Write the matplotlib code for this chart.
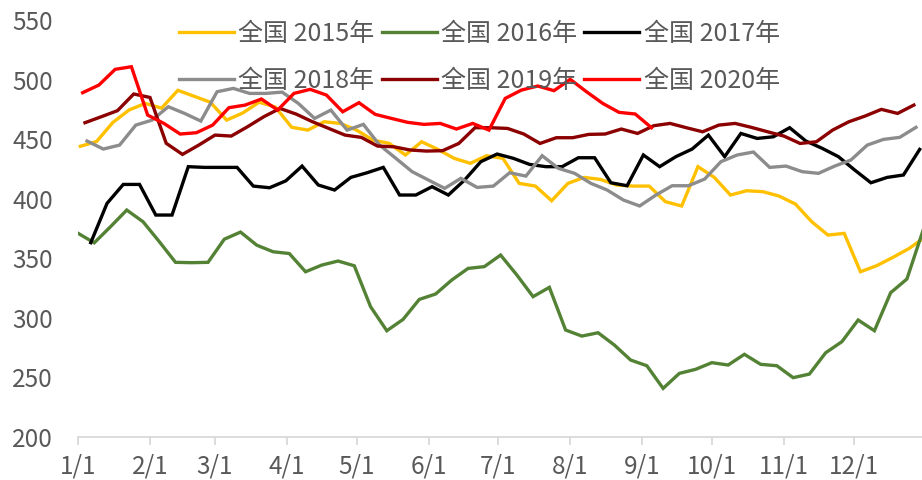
import matplotlib
matplotlib.use("Agg")
import numpy as np
import matplotlib.pyplot as plt

plt.rcParams['font.family'] = ['Noto Sans CJK SC', 'DejaVu Sans']

# month start labels (day of year)
month_days = [0, 31, 59, 90, 120, 151, 181, 212, 243, 273, 304, 334]
month_labels = ['1/1', '2/1', '3/1', '4/1', '5/1', '6/1', '7/1', '8/1', '9/1', '10/1', '11/1', '12/1']

# weekly series, first day of year for each
start_2015 = 1
v2015 = [444, 448, 464, 474.5, 480, 476, 491, 486, 481, 466,
         472, 481, 477, 460, 457.6, 464.6, 463.2, 457.6, 449.2, 446.5,
         436.7, 447.8, 441.4, 433.9, 429.7, 436.1, 433.9, 412.9, 410.6, 398.3,
         412.9, 417.9, 416.2, 411.5, 410.6, 410.6, 397.5, 393.9, 426.9, 418,
         403.1, 406.7, 405.9, 402.2, 395.5, 380.7, 369.5, 370.9, 338.7, 343.8,
         350.8, 358.3, 368.1]

start_2016 = 0
v2016 = [371, 363, 376.5, 390.5, 380.7, 364, 346.6, 346.3, 346.6, 366,
         372, 361, 355.5, 354, 338.7, 344.3, 347.7, 343.7, 309.4, 289.2,
         298.7, 315.5, 320, 331.8, 341.5, 343, 352.7, 336, 317.8, 325.6,
         289.8, 284.7, 287.5, 277.2, 264.6, 259.8, 240.8, 253.4, 256.8, 262.4,
         260.4, 269.4, 261, 259.8, 249.8, 252.8, 270.7, 280, 298.2, 289.2,
         321.1, 332.6, 373.7]

start_2017 = 5.5
v2017 = [363.1, 396.1, 412, 412, 386.3, 386.3, 426.9, 426.3, 426.3, 426.3,
         410.6, 409.2, 415, 427.4, 411.5, 407.3, 417.9, 421.8, 426.3, 403.1,
         403.1, 410.1, 403.1, 415.7, 431.1, 437.5, 433.9, 428.8, 426.9, 426.9,
         434.4, 434.4, 413.4, 410.9, 436.7, 426.9, 435.3, 441.7, 453.4, 435.3,
         454.8, 450.6, 452, 459.6, 448.4, 442.3, 435.3, 424.1, 413.4, 417.9,
         419.9, 441.4]

start_2018 = 3.9
v2018 = [448.4, 441.7, 445, 461.8, 466, 477.2, 471.6, 465.2, 489.8, 492.6,
         488.4, 488.4, 489.5, 480, 467.4, 474.4, 457.6, 462.4, 445, 433.9,
         422.7, 415.7, 408.7, 417.1, 409.5, 410.6, 421.8, 419, 436.1, 425.5,
         421.3, 412.9, 407.3, 398.9, 393.9, 403.1, 410.9, 410.9, 416.5, 431.1,
         436.7, 439.2, 426.3, 427.4, 422.7, 421.3, 427.4, 432.5, 445, 449.8,
         451.5, 459.9]

start_2019 = 3
v2019 = [463.8, 468.8, 473.9, 487.9, 485, 446.5, 437.2, 445, 453.4, 452.6,
         460.4, 468.8, 475.8, 471, 464.6, 459, 453.4, 451.5, 444.2, 443.6,
         440.9, 440, 440.3, 446.4, 459.6, 459.6, 459, 454.3, 446.4, 451.2,
         451.2, 454, 454.3, 458.5, 454.8, 461.3, 463.2, 459.6, 456.2, 461.8,
         463.2, 459.9, 456.2, 452.6, 446.4, 447.8, 457.6, 464.6, 469.4, 475,
         471.6, 478.6]

start_2020 = 2
v2020 = [489, 495.4, 508.6, 510.8, 470.2, 463.2, 454.3, 455.4, 461.8, 476.4,
         478.6, 483.7, 474.4, 488.4, 491.8, 487, 473, 480.6, 470.8, 467.4,
         464.1, 462.4, 463.2, 458.5, 463.2, 457.6, 484.2, 491.2, 494.6, 490.7,
         500.2, 489.8, 480, 472.5, 471.1, 459.6]

series = [
    ('全国 2015年', start_2015, v2015, '#FFC000'),
    ('全国 2016年', start_2016, v2016, '#548235'),
    ('全国 2017年', start_2017, v2017, '#000000'),
    ('全国 2018年', start_2018, v2018, '#8C8C8C'),
    ('全国 2019年', start_2019, v2019, '#8B0000'),
    ('全国 2020年', start_2020, v2020, '#FF0000'),
]

fig = plt.figure(figsize=(9.22, 4.8), dpi=100)
ax = fig.add_axes([0.0846, 0.0896, 0.9154, 0.8687])

lines = {}
for name, start, vals, color in series:
    x = start + 7 * np.arange(len(vals))
    ln, = ax.plot(x, vals, color=color, lw=2.4, solid_joinstyle='miter')
    lines[name] = ln

ax.set_xlim(0, 363.5)
ax.set_ylim(200, 550)
ax.set_yticks(np.arange(200, 551, 50))
ax.set_xticks(month_days)
ax.set_xticklabels(month_labels)

for s in ['top', 'right', 'left']:
    ax.spines[s].set_visible(False)
ax.spines['bottom'].set_color('#D9D9D9')
ax.spines['bottom'].set_linewidth(1.3)
ax.tick_params(axis='y', length=0, labelsize=17.5, labelcolor='#595959', pad=18)
ax.tick_params(axis='x', length=6, color='#D9D9D9', width=1.3,
               labelsize=17.5, labelcolor='#595959', pad=6)

# legend rows: 2015 2016 2017 / 2018 2019 2020 (column-major fill)
order = ['全国 2015年', '全国 2018年', '全国 2016年', '全国 2019年', '全国 2017年', '全国 2020年']
leg = fig.legend([lines[k] for k in order], order, ncol=3, frameon=False,
                 loc='center', bbox_to_anchor=(0.52, 0.881),
                 fontsize=18, handlelength=2.2, handletextpad=0.18,
                 columnspacing=0.28, labelspacing=0.84)
for t in leg.get_texts():
    t.set_color('#595959')

fig.savefig('out.png', dpi=100)
